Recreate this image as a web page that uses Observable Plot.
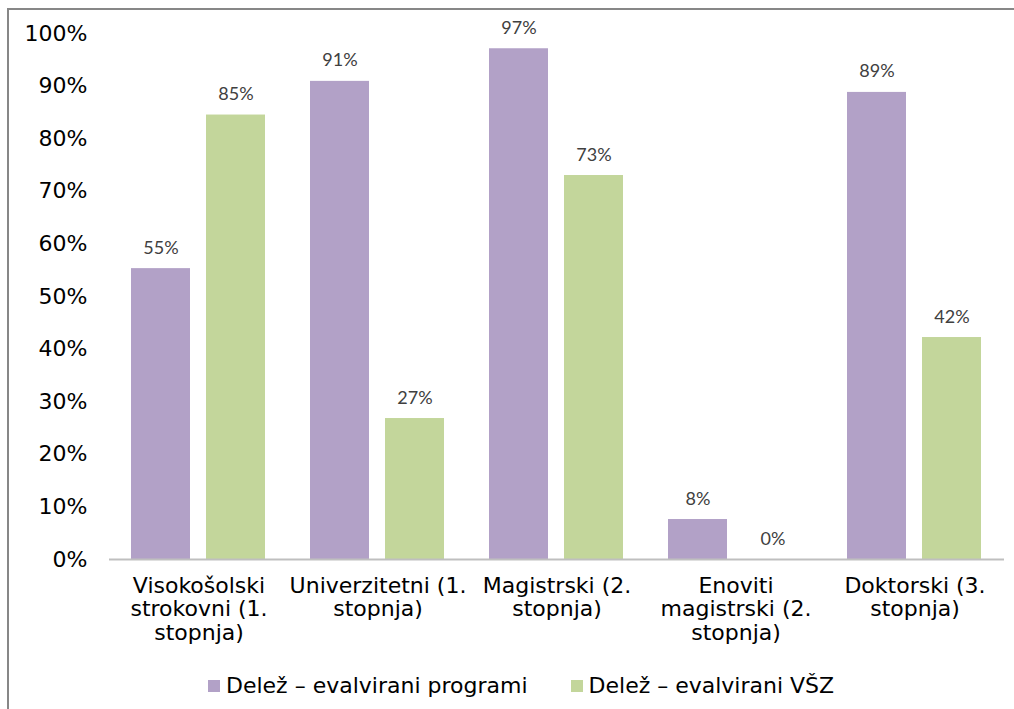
<!DOCTYPE html>
<html>
<head>
<meta charset="utf-8">
<script src="https://cdn.jsdelivr.net/npm/d3@7"></script>
<script src="https://cdn.jsdelivr.net/npm/@observablehq/plot@0.6"></script>
<style>
  html, body { margin: 0; padding: 0; background: #fff; }
  body { width: 1014px; height: 709px; position: relative; overflow: hidden; font-family: "DejaVu Sans", Verdana, sans-serif; }
  #chart { position: absolute; left: 0; top: 0; }
  #frame { position: absolute; left: 7px; top: 8px; width: 1100px; height: 800px; border-left: 2px solid #878787; border-top: 2px solid #878787; pointer-events: none; }
  #legend { position: absolute; left: 208px; top: 673px; display: flex; align-items: center; font-size: 22px; color: #000; white-space: nowrap; }
  .item { display: flex; align-items: center; margin-right: 43px; }
  .sw { width: 12px; height: 12px; margin-right: 6px; display: inline-block; }
</style>
</head>
<body>
<div id="chart"></div>
<div id="frame"></div>
<div id="legend"></div>
<script>
const categories = [
  "Visokošolski\nstrokovni (1.\nstopnja)",
  "Univerzitetni (1.\nstopnja)",
  "Magistrski (2.\nstopnja)",
  "Enoviti\nmagistrski (2.\nstopnja)",
  "Doktorski (3.\nstopnja)"
];
const seriesNames = ["Delež – evalvirani programi", "Delež – evalvirani VŠZ"];
const programi = [55.3, 90.9, 97.1, 7.6, 88.8];
const vsz = [84.5, 26.8, 73.0, 0, 42.2];
const colors = ["#B2A1C7", "#C3D69B"];
const yTicks = [0, 10, 20, 30, 40, 50, 60, 70, 80, 90, 100];

const rows = [];
categories.forEach((c, i) => {
  rows.push({cat: c, series: seriesNames[0], value: programi[i]});
  rows.push({cat: c, series: seriesNames[1], value: vsz[i]});
});

const chart = Plot.plot({
  width: 1014,
  height: 650,
  marginTop: 33,
  marginBottom: 91,
  marginLeft: 108,
  marginRight: 9,
  style: {fontFamily: "'DejaVu Sans', Verdana, sans-serif", background: "transparent"},
  fx: {domain: categories, padding: 0},
  x: {domain: seriesNames, paddingInner: 0.213, paddingOuter: 0.29, axis: null},
  y: {domain: [0, 100], axis: null},
  color: {domain: seriesNames, range: colors},
  marks: [
    Plot.axisY({ticks: yTicks, tickFormat: d => d + "%", tickSize: 0, tickPadding: 22, fontSize: 22, fill: "#000", label: null}),
    Plot.axisFx({anchor: "bottom", tickSize: 0, tickPadding: 17, fontSize: 22, fill: "#000", lineHeight: 1.06, label: null}),
    Plot.barY(rows, {fx: "cat", x: "series", y: "value", fill: "series"}),
    Plot.text(rows, {fx: "cat", x: "series", y: "value", text: d => Math.round(d.value) + "%", lineAnchor: "bottom", dy: -15, fontSize: 18, fontFamily: "Lato, 'Open Sans', sans-serif", fill: "#404040"}),
    Plot.ruleY([0], {stroke: "#BFBFBF", strokeWidth: 2})
  ]
});
document.getElementById("chart").appendChild(chart);

const legend = document.getElementById("legend");
seriesNames.forEach((s, i) => {
  const item = document.createElement("div");
  item.className = "item";
  const sw = document.createElement("span");
  sw.className = "sw";
  sw.style.background = colors[i];
  const t = document.createElement("span");
  t.textContent = s;
  item.appendChild(sw);
  item.appendChild(t);
  legend.appendChild(item);
});
</script>
</body>
</html>
